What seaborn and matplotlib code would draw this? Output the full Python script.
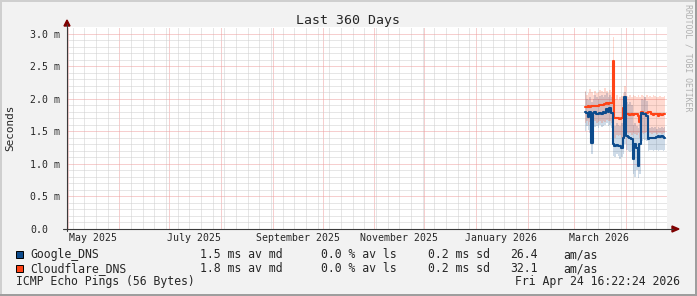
import numpy as np
import pandas as pd
import matplotlib
matplotlib.use("Agg")
import matplotlib.pyplot as plt
import matplotlib.dates as mdates
import matplotlib.transforms as mtransforms
from matplotlib.patches import Rectangle, Polygon
from matplotlib.lines import Line2D
import seaborn as sns

# ---------------- data ----------------
first_sample = "2026-03-07 12:00"
google_med = [1.80, 1.78, 1.72, 1.80, 1.32, 1.78, 1.80, 1.76, 1.76, 1.78, 1.76, 1.80, 1.78, 1.84, 1.80, 1.86, 1.78,
              1.30, 1.28, 1.29, 1.28, 1.27, 1.24, 1.40, 2.03, 1.42, 1.41, 1.40, 1.38, 1.08, 1.30, 1.25, 0.96, 1.30,
              1.78, 1.76, 1.77, 1.74, 1.38, 1.40, 1.40, 1.39, 1.40, 1.41, 1.42, 1.41, 1.42, 1.41, 1.40]
google_lo = [1.50, 1.58, 1.52, 1.48, 1.15, 1.50, 1.56, 1.58, 1.55, 1.60, 1.57, 1.58, 1.60, 1.62, 1.58, 1.60, 1.55,
             1.12, 1.10, 1.15, 1.12, 1.08, 1.10, 1.15, 1.30, 1.22, 1.20, 1.18, 1.20, 0.85, 0.80, 0.90, 0.78, 0.85,
             1.35, 1.38, 1.36, 1.35, 1.20, 1.22, 1.21, 1.20, 1.22, 1.21, 1.20, 1.22, 1.21, 1.20, 1.22]
google_hi = [2.10, 2.00, 1.98, 2.02, 1.95, 2.00, 2.05, 2.02, 2.00, 2.04, 2.06, 2.02, 2.05, 2.08, 2.03, 2.06, 2.02,
             1.60, 1.58, 1.62, 1.60, 1.58, 1.62, 1.80, 2.10, 1.95, 1.92, 1.95, 1.90, 1.60, 1.62, 1.58, 1.55, 1.62,
             2.00, 1.98, 2.02, 1.96, 1.56, 1.55, 1.57, 1.55, 1.56, 1.54, 1.57, 1.55, 1.56, 1.55, 1.56]
cloud_med = [1.87, 1.87, 1.88, 1.87, 1.88, 1.88, 1.89, 1.88, 1.89, 1.90, 1.90, 1.91, 1.92, 1.93, 1.92, 1.94, 1.93,
             2.58, 1.71, 1.70, 1.70, 1.69, 1.71, 1.85, 1.88, 1.77, 1.76, 1.75, 1.76, 1.75, 1.77, 1.76, 1.74, 1.64,
             1.80, 1.77, 1.76, 1.78, 1.80, 1.79, 1.76, 1.75, 1.77, 1.76, 1.74, 1.76, 1.75, 1.76, 1.76]
cloud_lo = [1.62, 1.66, 1.60, 1.64, 1.55, 1.63, 1.66, 1.62, 1.64, 1.65, 1.63, 1.66, 1.64, 1.67, 1.65, 1.66, 1.62,
            1.60, 1.40, 1.45, 1.42, 1.44, 1.40, 1.45, 1.55, 1.48, 1.46, 1.47, 1.45, 1.48, 1.46, 1.45, 1.47, 1.40,
            1.48, 1.46, 1.47, 1.49, 1.47, 1.48, 1.46, 1.47, 1.48, 1.46, 1.47, 1.48, 1.46, 1.47, 1.48]
cloud_hi = [2.12, 2.05, 2.08, 2.15, 2.10, 2.06, 2.12, 2.08, 2.10, 2.14, 2.12, 2.10, 2.16, 2.12, 2.08, 2.14, 2.10,
            2.95, 2.00, 2.05, 1.98, 2.02, 2.04, 2.08, 2.20, 2.04, 2.02, 2.05, 2.03, 2.06, 2.04, 2.02, 2.05, 2.03,
            2.06, 2.04, 2.03, 2.05, 2.02, 2.04, 2.03, 2.05, 2.04, 2.02, 2.03, 2.04, 2.02, 2.03, 2.04]

target_names = ["Google_DNS", "Cloudflare_DNS"]
target_colors = ["#0D4B8C", "#FF4316"]
legend_median = ["1.5 ms av md", "1.8 ms av md"]
legend_loss = ["0.0 % av ls", "0.0 % av ls"]
legend_sd = ["0.2 ms sd", "0.2 ms sd"]
legend_amas = ["26.4", "32.1"]

ytick_vals = [0.0, 0.5, 1.0, 1.5, 2.0, 2.5, 3.0]
ytick_labels = ["0.0", "0.5 m", "1.0 m", "1.5 m", "2.0 m", "2.5 m", "3.0 m"]
month_labels = ["May 2025", "July 2025", "September 2025", "November 2025", "January 2026", "March 2026"]
month_label_dates = ["2025-05-16", "2025-07-16", "2025-09-16", "2025-11-16", "2026-01-16", "2026-03-16"]

title = "Last 360 Days"
footer_left = "ICMP Echo Pings (56 Bytes)"
footer_right = "Fri Apr 24 16:22:24 2026"
watermark = "RRDTOOL / TOBI OETIKER"

# ---------------- layout helpers ----------------
W, H = 697, 296
def fx(px):
    return px / W
def fy(py):
    return 1 - py / H

sns.set_style("white")
plt.rcParams["font.family"] = ["DejaVu Sans Mono"]
plt.rcParams["lines.dash_capstyle"] = "butt"
MONO = "DejaVu Sans Mono"

fig = plt.figure(figsize=(W / 100, H / 100), dpi=100, facecolor="#F2F2F2")
ax = fig.add_axes([fx(67), fy(229), 600 / W, 202 / H])
ax.set_facecolor("white")

n = len(google_med)
times = list(pd.date_range(first_sample, periods=n, freq="D").to_pydatetime())

# smoke bands
ax.fill_between(times, google_lo, google_hi, step="mid", color=target_colors[0], alpha=0.2, linewidth=0, zorder=2)
ax.fill_between(times, cloud_lo, cloud_hi, step="mid", color=target_colors[1], alpha=0.2, linewidth=0, zorder=2)

df = pd.DataFrame({
    "time": times * 2,
    "rtt": cloud_med + google_med,
    "target": [target_names[1]] * n + [target_names[0]] * n,
})
sns.lineplot(data=df, x="time", y="rtt", hue="target",
             hue_order=[target_names[1], target_names[0]],
             palette={target_names[0]: target_colors[0], target_names[1]: target_colors[1]},
             drawstyle="steps-mid", linewidth=1.5, legend=False, errorbar=None, ax=ax, zorder=3)
ax.set_xlabel("")
ax.set_ylabel("")

x_start = pd.Timestamp("2025-04-30 14:00").to_pydatetime()
x_end = pd.Timestamp("2026-04-25 14:00").to_pydatetime()
ax.set_xlim(x_start, x_end)
ax.set_ylim(0, 3.1)

for s in ax.spines.values():
    s.set_visible(False)

# grid
ax.xaxis.set_major_locator(mdates.MonthLocator())
ax.xaxis.set_minor_locator(mdates.WeekdayLocator(byweekday=mdates.SU))
ax.set_yticks(ytick_vals)
ax.set_yticks([v / 10 for v in range(1, 31) if v % 5 != 0], minor=True)
ax.set_yticklabels(ytick_labels, ha="left", fontsize=7.1, family=MONO)
ax.set_axisbelow(True)
ax.grid(True, which="minor", color="#CFCFCF", linestyle=(0, (1, 1)), linewidth=0.72, antialiased=True)
ax.grid(True, which="major", color="#EE9E9E", linestyle=(0, (1, 1)), linewidth=0.72, antialiased=True)

ax.tick_params(axis="x", which="both", labelbottom=False, direction="out")
ax.tick_params(axis="x", which="major", length=2.16, width=0.72, color="#E08A8A")
ax.tick_params(axis="x", which="minor", length=1.44, width=0.72, color="#BDBDBD")
ax.tick_params(axis="y", which="major", length=2.16, width=0.72, color="#E08A8A", pad=37 * 0.72 - 2.16)
ax.tick_params(axis="y", which="minor", length=1.44, width=0.72, color="#BDBDBD")

# month labels
trans = mtransforms.blended_transform_factory(ax.transData, ax.transAxes)
for lab, d in zip(month_labels, month_label_dates):
    ax.text(mdates.date2num(pd.Timestamp(d).to_pydatetime()), -12 / 202, lab, transform=trans,
            ha="center", va="baseline", fontsize=7.1, family=MONO)

# axes lines and arrows
axis_col = "#3A3A3A"
arrow_col = "#7F0000"
fig.add_artist(Line2D([fx(67), fx(67)], [fy(231), fy(24)], color=axis_col, linewidth=0.8))
fig.add_artist(Line2D([fx(63), fx(673)], [fy(229), fy(229)], color=axis_col, linewidth=0.8))
fig.add_artist(Polygon([[fx(67), fy(20)], [fx(64), fy(26)], [fx(70), fy(26)]], closed=True,
                       transform=fig.transFigure, color=arrow_col))
fig.add_artist(Polygon([[fx(679), fy(229)], [fx(672), fy(226)], [fx(672), fy(232)]], closed=True,
                       transform=fig.transFigure, color=arrow_col))

# texts
fig.text(fx(348.5), fy(24), title, ha="center", va="baseline", fontsize=9.5, family=MONO)
fig.text(fx(10), fy(128), "Seconds", rotation=90, ha="center", va="center", fontsize=7.9, family=MONO)
fig.text(fx(688), fy(4), watermark, rotation=270, ha="center", va="top", fontsize=5.9,
         family=MONO, color="#B0B0B0")

row_base = [258, 272]
for i in range(2):
    yb = row_base[i]
    fig.add_artist(Rectangle((fx(16), fy(yb)), 7 / W, 7 / H, transform=fig.transFigure,
                             facecolor=target_colors[i], edgecolor="black", linewidth=0.7))
    fig.text(fx(30), fy(yb), target_names[i], va="baseline", fontsize=8.3, family=MONO)
    fig.text(fx(200), fy(yb), legend_median[i], va="baseline", fontsize=8.3, family=MONO)
    fig.text(fx(321), fy(yb), legend_loss[i], va="baseline", fontsize=8.3, family=MONO)
    fig.text(fx(428), fy(yb), legend_sd[i], va="baseline", fontsize=8.3, family=MONO)
    fig.text(fx(510), fy(yb), legend_amas[i], va="baseline", fontsize=8.3, family=MONO)
    fig.text(fx(563.5), fy(yb), "am/as", va="baseline", fontsize=8.3, family=MONO)

fig.text(fx(16.5), fy(285.5), footer_left, va="baseline", fontsize=8.3, family=MONO)
fig.text(fx(680), fy(285.5), footer_right, ha="right", va="baseline", fontsize=8.3, family=MONO)

# 3D border
fig.add_artist(Rectangle((0, 1 - 2 / H), 1, 2 / H, transform=fig.transFigure, color="#CFCFCF", linewidth=0))
fig.add_artist(Rectangle((0, 0), 2 / W, 1, transform=fig.transFigure, color="#CFCFCF", linewidth=0))
fig.add_artist(Rectangle((0, 0), 1, 2 / H, transform=fig.transFigure, color="#9E9E9E", linewidth=0))
fig.add_artist(Rectangle((1 - 2 / W, 0), 2 / W, 1, transform=fig.transFigure, color="#9E9E9E", linewidth=0))

fig.savefig("out.png", dpi=100, facecolor=fig.get_facecolor())
